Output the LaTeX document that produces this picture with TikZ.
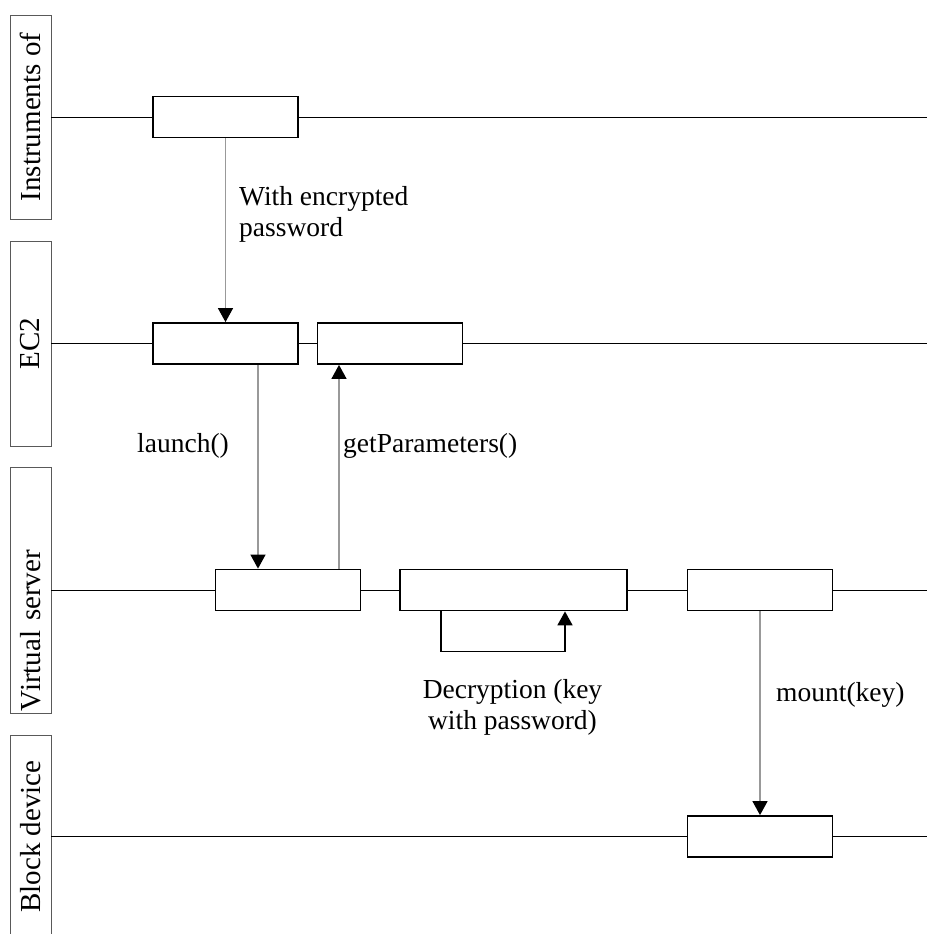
\documentclass[tikz,border=0pt]{standalone}
\usepackage{fontspec}
\setmainfont{Liberation Serif}
\usetikzlibrary{arrows.meta}

\tikzset{
  lanebox/.style={draw=black!65, line width=0.9pt, rotate=90, minimum height=41pt, inner sep=0pt, font=\fontsize{29pt}{34pt}\selectfont},
  act/.style={draw, line width=1.8pt, fill=white, minimum width=145pt, minimum height=41pt, inner sep=0pt},
  laneline/.style={line width=1pt},
  msg/.style={draw=black!40, line width=1.3pt, -{Triangle[length=14pt, width=15pt, color=black]}},
  selfmsg/.style={line width=1.8pt, -{Triangle[length=14pt, width=15pt]}},
  note/.style={inner sep=0pt, align=left, font=\fontsize{27.5pt}{31pt}\selectfont},
}

\begin{document}
\begin{tikzpicture}[x=1pt, y=-1pt]
\useasboundingbox (0,0) rectangle (927,934);
% lanes
\node[lanebox, minimum width=204pt] (inst) at (30.5,117) {Instruments of};
\node[lanebox, minimum width=205pt] (ec) at (30.5,343.5) {EC2};
\node[lanebox, text width=242pt, inner xsep=2pt, align=left] (vs) at (30.5,590) {Virtual server};
\node[lanebox, minimum width=202pt] (blk) at (30.5,836.5) {Block device};
\coordinate (instend) at (927,117);
\coordinate (ecend) at (927,343.5);
\coordinate (vsend) at (927,590);
\coordinate (blkend) at (927,836.5);
% activations
\node[act] (i1) at (225.5,117) {};
\node[act] (e1) at (225.5,343.5) {};
\node[act] (e2) at (390,343.5) {};
\node[act] (v1) at (288,590) {};
\node[act, minimum width=227pt] (v2) at (513.5,590) {};
\node[act] (v3) at (760,590) {};
\node[act] (b1) at (760,836.5) {};
% lifelines
\draw[laneline] (inst.south) -- (i1.west) (i1.east) -- (instend);
\draw[laneline] (ec.south) -- (e1.west) (e1.east) -- (e2.west) (e2.east) -- (ecend);
\draw[laneline] (vs.south) -- (v1.west) (v1.east) -- (v2.west) (v2.east) -- (v3.west) (v3.east) -- (vsend);
\draw[laneline] (blk.south) -- (b1.west) (b1.east) -- (blkend);
% messages
\draw[msg] (i1.south) -- (e1.north);
\draw[msg] ([xshift=32.5pt]e1.south) -- ([xshift=-30pt]v1.north);
\draw[msg] ([xshift=51pt]v1.north) -- ([xshift=-51pt]e2.south);
\draw[selfmsg] ([xshift=-72.5pt]v2.south) -- ++(0,40) -| ([xshift=51.5pt]v2.south);
\draw[msg] (v3.south) -- (b1.north);
% labels
\node[note, anchor=west] (pwd) at (239,214) {With encrypted\\password};
\node[note, anchor=west] (launch) at (137,446) {launch()};
\node[note, anchor=west] (getp) at (343,446) {getParameters()};
\node[note, align=center] (decr) at (512.5,707) {Decryption (key\\with password)};
\node[note, anchor=west] (mnt) at (776,695) {mount(key)};
\end{tikzpicture}
\end{document}
